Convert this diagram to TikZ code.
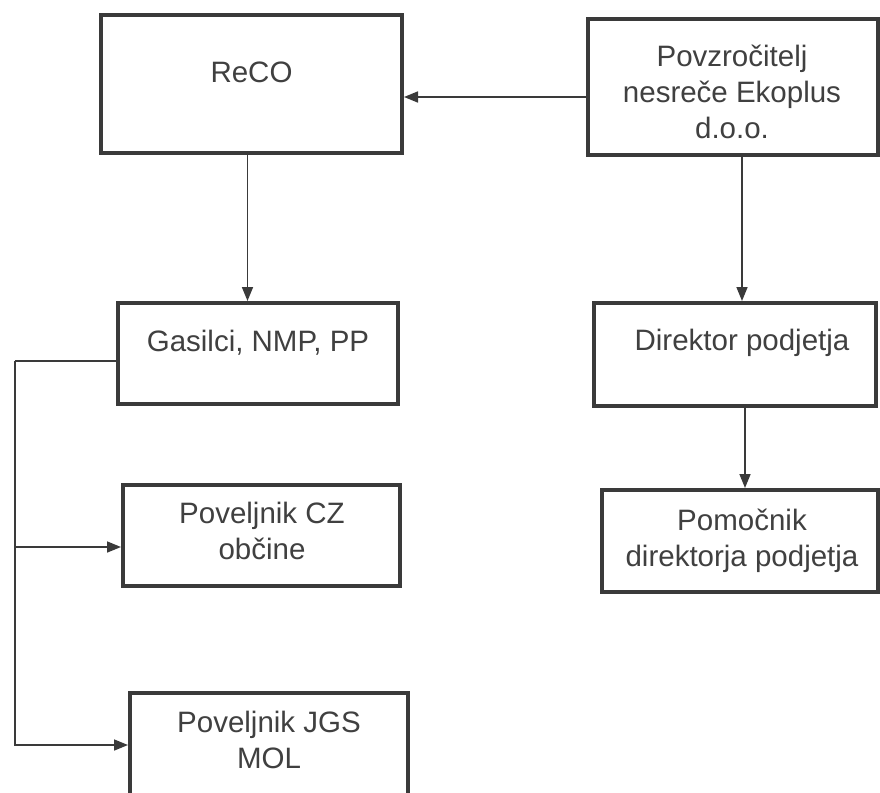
\documentclass[tikz,border=0pt]{standalone}
\usepackage{fontspec}
\setmainfont{Liberation Sans}
\usepackage{tikz}
\usetikzlibrary{positioning}
\usetikzlibrary{calc}
\usetikzlibrary{arrows.meta}
\definecolor{inkgray}{HTML}{3A3A3A}
\definecolor{textgray}{HTML}{404040}

\begin{document}
\begin{tikzpicture}[x=1pt, y=-1pt, >={Triangle[length=14pt,width=11pt]}, line width=1.6pt,
            box/.style={rectangle, draw=inkgray, line width=4pt, inner sep=0pt},
            lbl/.style={text=textgray, align=center, font=\fontsize{29.5}{36}\selectfont},
            link/.style={->, draw=inkgray, line width=1.6pt}]
            % Define the page
            \fill[white] (0,0) rectangle (880,792);
            \clip (0,0) rectangle (880,792);
            % Define the boxes
            \node[box, minimum width=301pt, minimum height=138pt] (reco) at (251.5,84) {};
            \node[box, minimum width=290pt, minimum height=136pt] (cause) at (733,87) {};
            \node[box, minimum width=280pt, minimum height=101pt] (gas) at (258,353.5) {};
            \node[box, minimum width=282pt, minimum height=103pt] (dir) at (735,354.5) {};
            \node[box, minimum width=276pt, minimum height=102pt] (pom) at (740,541) {};
            \node[box, minimum width=277pt, minimum height=101pt] (cz) at (261.5,535.5) {};
            \node[box, minimum width=278pt, minimum height=104pt] (jgs) at (269,745) {};
            % Label the boxes
            \node[lbl] (recotxt) at (251.5,72) {ReCO};
            \node[lbl] (causetxt) at (732,92) {Povzročitelj\\nesreče Ekoplus\\d.o.o.};
            \node[lbl] (gastxt) at (258,343) {Gasilci, NMP, PP};
            \node[lbl] (dirtxt) at (742,343) {Direktor podjetja};
            \node[lbl] (pomtxt) at (742,541) {Pomočnik\\direktorja podjetja};
            \node[lbl] (cztxt) at (262,531) {Poveljnik CZ\\občine};
            \node[lbl] (jgstxt) at (269,740) {Poveljnik JGS\\MOL};

            % Paths
            \draw[link] ([yshift=-10pt]cause.west) -- ([yshift=-10pt]cause.west -| reco.east); % cause -> ReCO
            \draw[link] ([xshift=-4pt]reco.south) -- ([xshift=-4pt]reco.south |- gas.north); % ReCO -> gas
            \draw[link] ([xshift=9pt]cause.south) -- ([xshift=9pt]cause.south |- dir.north); % cause -> dir
            \draw[link] ([xshift=10pt]dir.south) -- ([xshift=10pt]dir.south |- pom.north); % dir -> pom
            \coordinate (rail) at (15,361);
            \draw[draw=inkgray] ([yshift=-7.5pt]gas.west) -- (rail); % gas -> rail
            \draw[link] (rail) |- (jgs.west); % rail -> JGS
            \draw[link] (rail |- 0,547) -- ([yshift=-11.5pt]cz.west); % rail -> CZ
        \end{tikzpicture}
\end{document}
